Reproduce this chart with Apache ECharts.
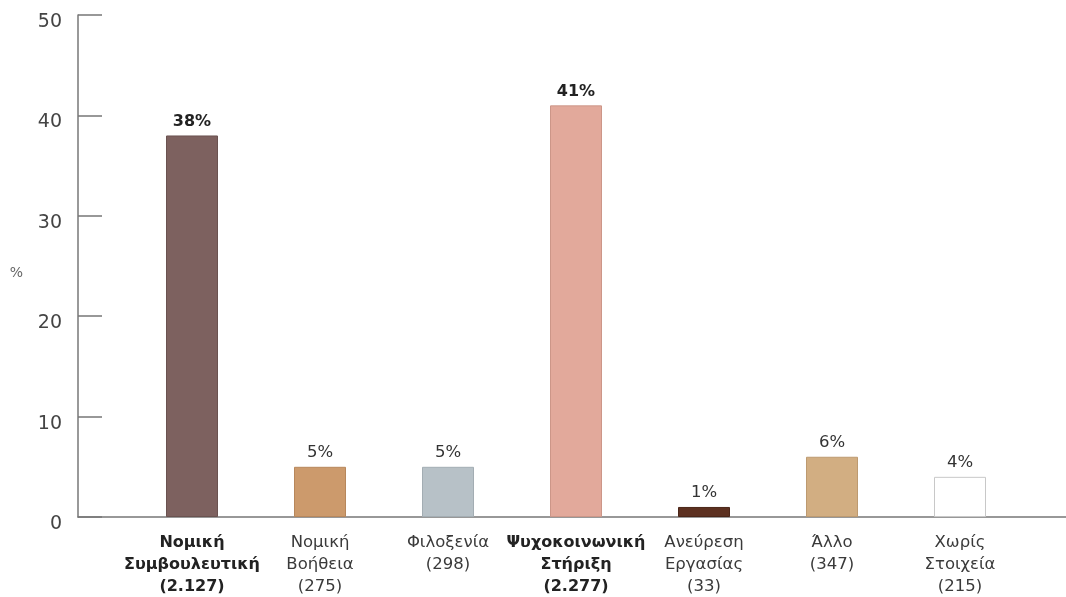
<!DOCTYPE html>
<html><head><meta charset="utf-8">
<script src="https://cdn.jsdelivr.net/npm/echarts@6/dist/echarts.min.js"></script>
<style>html,body{margin:0;padding:0;background:#fff}#c{width:1066px;height:597px}</style>
</head><body><div id="c"></div>
<script>
const categories = ['Νομική\nΣυμβουλευτική\n(2.127)', 'Νομική\nΒοήθεια\n(275)', 'Φιλοξενία\n(298)', 'Ψυχοκοινωνική\nΣτήριξη\n(2.277)', 'Ανεύρεση\nΕργασίας\n(33)', 'Άλλο\n(347)', 'Χωρίς\nΣτοιχεία\n(215)'];
const boldCategories = [true, false, false, true, false, false, false];
const values = [38, 5, 5, 41, 1, 6, 4];
const valueLabels = ['38%', '5%', '5%', '41%', '1%', '6%', '4%'];
const barColors = ['#7d615f', '#cc9a6c', '#b7c1c7', '#e2a99b', '#5c3020', '#d2ae82', '#ffffff'];
const barBorders = ['#6a5250', '#b7875c', '#a3adb3', '#cc9688', '#4a2518', '#bd9a70', '#c8c8c8'];
const yTicks = [0, 10, 20, 30, 40, 50];

const font = 'DejaVu Sans, Verdana, sans-serif';
const chart = echarts.init(document.getElementById('c'));
chart.setOption({
  animation: false,
  backgroundColor: '#fff',
  grid: [
    {left: 128, right: 42, top: 15, bottom: 80, containLabel: false, outerBoundsMode: 'none'},
    {left: 78, right: 0, top: 15, bottom: 80, containLabel: false, outerBoundsMode: 'none'}
  ],
  xAxis: [{
    type: 'category', gridIndex: 0, data: categories,
    axisLine: {show: false},
    axisTick: {show: false},
    axisLabel: {
      margin: 15, interval: 0, fontFamily: font, fontSize: 16.5, color: '#3a3a3a', lineHeight: 22,
      formatter: function (v, i) { return boldCategories[i] ? '{b|' + v.split('\n').join('}\n{b|') + '}' : v; },
      rich: {b: {fontWeight: 'bold', fontFamily: font, fontSize: 16, color: '#222', lineHeight: 22}}
    }
  }, {
    type: 'value', gridIndex: 1, min: 0, max: 1,
    axisLine: {show: true, lineStyle: {color: '#777', width: 1.5}},
    axisTick: {show: false}, axisLabel: {show: false}, splitLine: {show: false}
  }],
  yAxis: [{
    type: 'value', gridIndex: 0, min: 0, max: 50, interval: 10, offset: 50,
    name: '%', nameLocation: 'middle', nameRotate: 0, nameGap: 55,
    nameTextStyle: {fontFamily: font, fontSize: 14, color: '#666', verticalAlign: 'top', lineHeight: 14},
    axisLine: {show: true, lineStyle: {color: '#777', width: 1.5}},
    axisTick: {show: true, inside: true, length: 24, lineStyle: {color: '#777', width: 1.5}},
    axisLabel: {margin: 16, fontFamily: font, fontSize: 19, color: '#444', verticalAlign: 'top', lineHeight: 14,
      formatter: function (v) { return yTicks.indexOf(v) >= 0 ? String(v) : ''; }},
    splitLine: {show: false}
  }, {
    type: 'value', gridIndex: 1, show: false, min: 0, max: 1
  }],
  series: [{
    type: 'bar', xAxisIndex: 0, yAxisIndex: 0, barWidth: 52,
    data: values.map(function (v, i) {
      return {
        value: v,
        itemStyle: {color: barColors[i], borderColor: barBorders[i], borderWidth: 1},
        label: boldCategories[i] ? {fontWeight: 'bold', fontSize: 16} : {fontWeight: 'normal', fontSize: 16.5, color: '#333'}
      };
    }),
    label: {
      show: true, position: 'top', distance: 6, fontFamily: font, fontSize: 16, color: '#222',
      formatter: function (p) { return valueLabels[p.dataIndex]; }
    }
  }]
});
</script></body></html>
